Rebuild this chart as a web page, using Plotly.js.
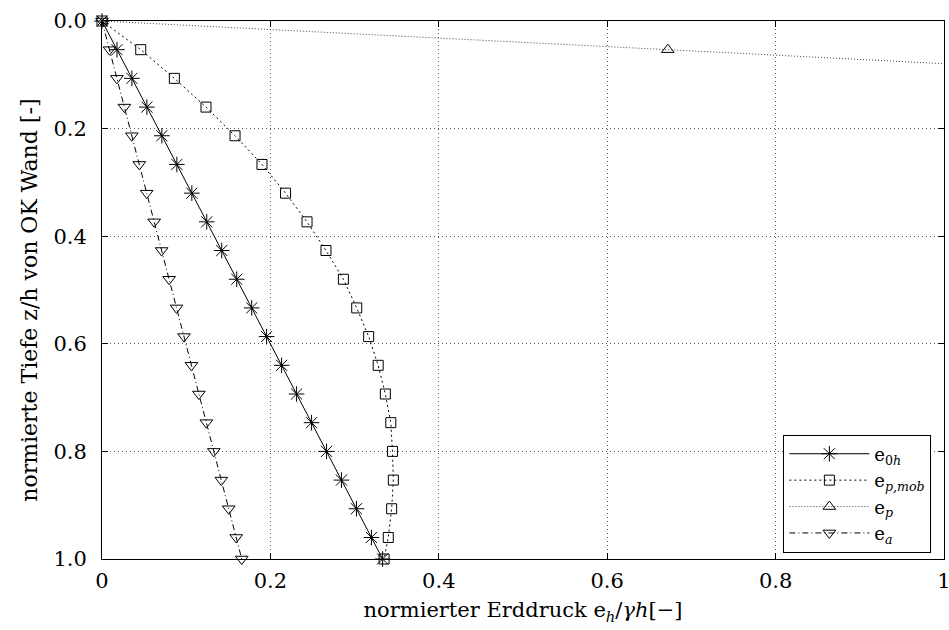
<!DOCTYPE html>
<html><head><meta charset="utf-8">
<script src="https://cdn.plot.ly/plotly-3.0.1.min.js"></script>
<style>body{margin:0;background:#fff}</style>
</head><body><div id="chart" style="width:949px;height:630px"></div>
<script>
const depth = [0,0.0533,0.1066,0.16,0.2133,0.2666,0.32,0.3733,0.4266,0.48,0.5333,0.5866,0.64,0.6933,0.7466,0.80,0.8533,0.9066,0.96,1.0];
const e0h = [0,0.0178,0.0355,0.0533,0.0711,0.0889,0.1067,0.1244,0.1422,0.16,0.1778,0.1955,0.2133,0.2311,0.2489,0.2667,0.2844,0.3022,0.32,0.3333];
const epMob = [0,0.046,0.0859,0.1235,0.158,0.190,0.218,0.2435,0.266,0.2867,0.3025,0.3167,0.328,0.3365,0.343,0.345,0.346,0.344,0.340,0.335];
const ep = [0,0.672,1.344,2.016,2.688,3.36,4.032,4.704,5.376,6.048,6.72,7.392,8.064,8.736,9.408,10.08,10.752,11.424,12.096,12.6];
const ea = [0,0.0089,0.0177,0.0266,0.0354,0.0443,0.0531,0.062,0.0708,0.0797,0.0885,0.0974,0.1062,0.1151,0.1239,0.1328,0.1417,0.1505,0.1594,0.166];
const seriesNames = ['e<sub>0<i>h</i></sub>','e<sub><i>p,mob</i></sub>','e<sub><i>p</i></sub>','e<sub><i>a</i></sub>'];
const xTickVals = [0,0.2,0.4,0.6,0.8,1];
const xTickText = ['0','0.2','0.4','0.6','0.8','1'];
const yTickVals = [0,0.2,0.4,0.6,0.8,1];
const yTickText = ['0.0','0.2','0.4','0.6','0.8','1.0'];
const xTitle = 'normierter Erddruck e<sub><i>h</i></sub>/<i>γh</i>[−]';
const yTitle = 'normierte Tiefe z/h von OK Wand [-]';

const FONT = "'DejaVu Serif', 'Liberation Serif', serif";
const traces = [
  {x:e0h, y:depth, name:seriesNames[0], mode:'lines+markers', cliponaxis:false,
   line:{color:'#000', width:1, dash:'solid'},
   marker:{symbol:'asterisk-open', size:13, color:'#000', line:{color:'#000', width:1}}},
  {x:epMob, y:depth, name:seriesNames[1], mode:'lines+markers', cliponaxis:false,
   line:{color:'#000', width:1, dash:'2px,3px'},
   marker:{symbol:'square-open', size:10, color:'#000', line:{color:'#000', width:1}}},
  {x:ep, y:depth, name:seriesNames[2], mode:'lines+markers', cliponaxis:true,
   line:{color:'#444', width:1, dash:'1px,2px'},
   marker:{symbol:'triangle-up-open', size:11, color:'#000', line:{color:'#000', width:1}}},
  {x:ea, y:depth, name:seriesNames[3], mode:'lines+markers', cliponaxis:false,
   line:{color:'#000', width:1, dash:'6px,3px,1px,3px'},
   marker:{symbol:'triangle-down-open', size:11, color:'#000', line:{color:'#000', width:1}}}
];
const axisCommon = {
  showgrid:true, gridcolor:'#555', griddash:'1px,3px', gridwidth:1,
  showline:true, linecolor:'#000', linewidth:1, mirror:'ticks',
  ticks:'inside', ticklen:6, tickcolor:'#000', zeroline:false,
  ticklabeloverflow:'allow',
  tickfont:{family:FONT, size:21, color:'#000'}
};
const layout = {
  width:949, height:630,
  margin:{l:102, r:5, t:21, b:71},
  paper_bgcolor:'#fff', plot_bgcolor:'#fff',
  font:{family:FONT, size:21, color:'#000'},
  showlegend:true,
  xaxis:Object.assign({}, axisCommon, {range:[0,1], tickvals:xTickVals, ticktext:xTickText,
    ticklabelstandoff:3,
    title:{text:xTitle, font:{family:FONT, size:21}, standoff:10}}),
  yaxis:Object.assign({}, axisCommon, {range:[1,0], tickvals:yTickVals, ticktext:yTickText,
    ticklabelstandoff:10}),
  annotations:[{text:yTitle, xref:'paper', yref:'paper', x:-72/842, y:0.48,
    xanchor:'center', yanchor:'middle', textangle:-90, showarrow:false,
    font:{family:FONT, size:22, color:'#000'}}],
  legend:{x:0.985, xanchor:'right', y:0.012, yanchor:'bottom', bgcolor:'#fff',
    bordercolor:'#000', borderwidth:1, font:{family:FONT, size:18}, tracegroupgap:0,
    itemwidth:80}
};
Plotly.newPlot('chart', traces, layout, {displayModeBar:false, staticPlot:true});
</script></body></html>
